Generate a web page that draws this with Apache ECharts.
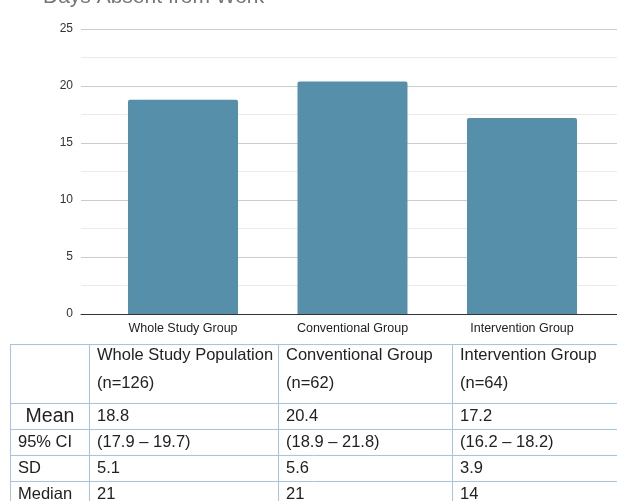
<!DOCTYPE html>
<html>
<head>
<meta charset="utf-8">
<script src="https://cdn.jsdelivr.net/npm/echarts@6/dist/echarts.min.js"></script>
<style>
  html, body { margin: 0; padding: 0; background: #ffffff; }
  #chart { width: 617px; height: 501px; }
</style>
</head>
<body>
<div id="chart"></div>
<script>
// ---- data ----
const chartTitle = 'Days Absent from Work';
const categories = ['Whole Study Group', 'Conventional Group', 'Intervention Group'];
const meanDays = [18.8, 20.4, 17.2];
const yAxisRange = { min: 0, max: 25, interval: 5 };

const tableHeaders = ['Whole Study Population', 'Conventional Group', 'Intervention Group'];
const groupSizes = ['(n=126)', '(n=62)', '(n=64)'];
const ci95 = ['(17.9 – 19.7)', '(18.9 – 21.8)', '(16.2 – 18.2)'];
const sdDays = ['5.1', '5.6', '3.9'];
const medianDays = ['21', '21', '14'];
const rowLabels = ['Mean', '95% CI', 'SD', 'Median'];

// ---- layout ----
const FONT = '"Liberation Sans", Arial, sans-serif';
const colX = [10, 89, 278, 452, 617];
const rowY = [344, 403, 429, 455, 481, 507];
const gridColor = '#a4c2f4';

const chart = echarts.init(document.getElementById('chart'));

// statistics table built from the arrays above
const graphics = [];
graphics.push({
  type: 'text', x: 43, y: -3,
  style: { text: chartTitle, font: '21px ' + FONT, fill: '#757575', verticalAlign: 'middle' }
});
rowY.forEach(function (y) {
  graphics.push({ type: 'line', shape: { x1: colX[0], y1: y + 0.5, x2: 617, y2: y + 0.5 },
    style: { stroke: gridColor, lineWidth: 1 }, silent: true });
});
colX.slice(0, 4).forEach(function (x) {
  graphics.push({ type: 'line', shape: { x1: x + 0.5, y1: rowY[0], x2: x + 0.5, y2: 501 },
    style: { stroke: gridColor, lineWidth: 1 }, silent: true });
});
function cellText(x, y, text, size, align) {
  graphics.push({ type: 'text', x: x, y: y,
    style: { text: text, font: size + 'px ' + FONT, fill: '#222222',
      align: align || 'left', verticalAlign: 'middle' } });
}
const rowCenters = [416.5, 442.5, 468, 494];
const tableRows = [meanDays.map(function (v) { return v.toFixed(1); }), ci95, sdDays, medianDays];
for (let c = 0; c < 3; c++) {
  const tx = colX[c + 1] + 8;
  cellText(tx, 355, tableHeaders[c], 16.5);
  cellText(tx, 383.5, groupSizes[c], 16.5);
  tableRows.forEach(function (row, r) { cellText(tx, rowCenters[r], row[c], 16.5); });
}
rowLabels.forEach(function (label, r) {
  if (r === 0) cellText((colX[0] + colX[1]) / 2 + 0.5, rowCenters[r], label, 19.5, 'center');
  else cellText(18, rowCenters[r], label, 16.5);
});

chart.setOption({
  animation: false,
  backgroundColor: '#ffffff',
  textStyle: { fontFamily: FONT },
  grid: [
    { left: 81, right: 0, top: 29, height: 285 },
    { left: 98.25, width: 508.5, top: 29, height: 285 }
  ],
  xAxis: [
    { type: 'value', gridIndex: 0, min: 0, max: 1,
      axisLine: { show: true, onZero: false, lineStyle: { color: '#333333', width: 1 } },
      axisTick: { show: false }, axisLabel: { show: false }, splitLine: { show: false } },
    { type: 'category', gridIndex: 1, data: categories,
      axisLine: { show: false }, axisTick: { show: false },
      axisLabel: { color: '#222222', fontSize: 12.5, margin: 8, fontFamily: FONT } }
  ],
  yAxis: [
    { type: 'value', gridIndex: 0, min: yAxisRange.min, max: yAxisRange.max, interval: yAxisRange.interval,
      axisLine: { show: false }, axisTick: { show: false },
      axisLabel: { color: '#333333', fontSize: 12, margin: 8, fontFamily: FONT },
      splitLine: { show: true, lineStyle: { color: '#cccccc', width: 1 } },
      minorTick: { show: false, splitNumber: 2 },
      minorSplitLine: { show: true, lineStyle: { color: '#ebebeb', width: 1 } } },
    { type: 'value', gridIndex: 1, min: yAxisRange.min, max: yAxisRange.max,
      show: false, splitLine: { show: false } }
  ],
  series: [{
    type: 'bar', xAxisIndex: 1, yAxisIndex: 1,
    data: meanDays, barWidth: 110,
    itemStyle: { color: '#558fa9', borderRadius: [2, 2, 0, 0] }
  }],
  graphic: graphics
});
</script>
</body>
</html>
